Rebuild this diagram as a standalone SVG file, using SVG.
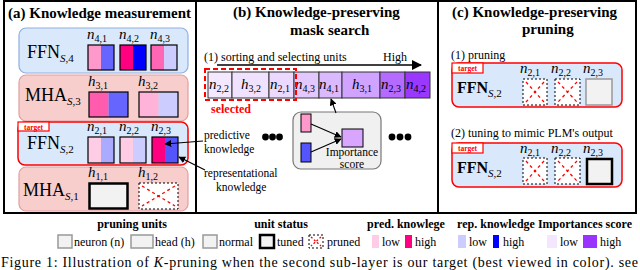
<svg xmlns="http://www.w3.org/2000/svg" width="640" height="270" viewBox="0 0 640 270">
<defs>
<style>
text{font-family:"Liberation Serif","Times New Roman",serif;fill:#000}
.ttl{font-size:15px;font-weight:bold}
.hd{font-size:12px;font-weight:bold}
.sm{font-size:12px}
.ann{font-size:11.5px}
.lay{font-size:18px}
.layb{font-size:16px;font-weight:bold}
.lab{font-size:15px;font-style:italic}
.sub{font-size:10px;font-style:normal}
.ffn{fill:#dae8fc;stroke:#8fb0e0;stroke-width:1.2}
.mha{fill:#f8cecc;stroke:#e0a0a0;stroke-width:1.2}
.tgt{fill:#dae8fc;stroke:#ff0000;stroke-width:1.5}
.tag{fill:#fff;stroke:#ff0000;stroke-width:1.2}
.tagt{font-size:7.5px;font-weight:bold;fill:#ff0000}
.ub{fill:none;stroke:#000;stroke-width:1.2}
.norm{fill:#f2f2f2;stroke:#999;stroke-width:1.5}
.tuned{fill:#f2f2f2;stroke:#000;stroke-width:2.5}
.prn{fill:#fff;stroke:#000;stroke-width:1;stroke-dasharray:2 2}
.x{stroke:#ff0000;stroke-width:1.3;stroke-dasharray:3 3;fill:none}
.cell{stroke:#333;stroke-width:1}
.frame{fill:none;stroke:#000;stroke-width:2}
.con{stroke:#000;stroke-width:1.1;fill:none;marker-end:url(#ah)}
</style>
<marker id="ah" viewBox="0 0 10 10" refX="9" refY="5" markerWidth="7" markerHeight="7" markerUnits="userSpaceOnUse" orient="auto">
<path d="M0,0 L10,5 L0,10 z" fill="#000"/>
</marker>
<marker id="ahb" viewBox="0 0 10 10" refX="9" refY="5" markerWidth="10" markerHeight="10" markerUnits="userSpaceOnUse" orient="auto">
<path d="M0,0 L10,5 L0,10 z" fill="#000"/>
</marker>
</defs>
<rect width="640" height="270" fill="#fff"/>

<!-- frame -->
<g id="frame">
<rect class="frame" x="4" y="1" width="632" height="212"/>
<line x1="196" y1="1" x2="196" y2="213" stroke="#000" stroke-width="2"/>
<line x1="438" y1="1" x2="438" y2="213" stroke="#000" stroke-width="2"/>
</g>

<!-- Panel (a) -->
<text class="ttl" x="8" y="18">(a) Knowledge measurement</text>

<g id="ffn4">
<rect class="ffn" x="19" y="28" width="169" height="45" rx="7"/>
<text class="lay" x="27" y="58">FFN<tspan font-size="11" dy="4"><tspan font-style="italic">S</tspan>,4</tspan></text>
<text class="lab" x="87" y="39">n<tspan class="sub" dy="2.5">4,1</tspan></text>
<text class="lab" x="119" y="39">n<tspan class="sub" dy="2.5">4,2</tspan></text>
<text class="lab" x="150" y="39">n<tspan class="sub" dy="2.5">4,3</tspan></text>
<rect x="88" y="45" width="13" height="25" fill="#ff99cc"/><rect x="101" y="45" width="13" height="25" fill="#6666ff"/><rect class="ub" x="88" y="45" width="26" height="25"/>
<rect x="120" y="45" width="13" height="25" fill="#ff0080"/><rect x="133" y="45" width="13" height="25" fill="#0000ff"/><rect class="ub" x="120" y="45" width="26" height="25"/>
<rect x="151" y="45" width="13" height="25" fill="#ff66b3"/><rect x="164" y="45" width="13" height="25" fill="#ccccff"/><rect class="ub" x="151" y="45" width="26" height="25"/>
</g>

<g id="mha3">
<rect class="mha" x="19" y="75" width="169" height="46" rx="7"/>
<text class="lay" x="25" y="101">MHA<tspan font-size="11" dy="4"><tspan font-style="italic">S</tspan>,3</tspan></text>
<text class="lab" x="88" y="86">h<tspan class="sub" dy="2.5">3,1</tspan></text>
<text class="lab" x="138" y="86">h<tspan class="sub" dy="2.5">3,2</tspan></text>
<rect x="89" y="92" width="19.5" height="25" fill="#ff5cad"/><rect x="108.5" y="92" width="19.5" height="25" fill="#6666ff"/><rect class="ub" x="89" y="92" width="39" height="25"/>
<rect x="139" y="92" width="19.5" height="25" fill="#ffb3d9"/><rect x="158.5" y="92" width="19.5" height="25" fill="#ccccff"/><rect class="ub" x="139" y="92" width="39" height="25"/>
</g>

<g id="ffn2">
<rect class="tgt" x="18" y="122" width="170" height="43" rx="7"/>
<rect class="tag" x="18" y="122" width="31" height="9"/>
<text class="tagt" x="33.5" y="129.5" text-anchor="middle">target</text>
<text class="lay" x="27" y="149">FFN<tspan font-size="11" dy="4"><tspan font-style="italic">S</tspan>,2</tspan></text>
<text class="lab" x="87" y="131">n<tspan class="sub" dy="2.5">2,1</tspan></text>
<text class="lab" x="119" y="131">n<tspan class="sub" dy="2.5">2,2</tspan></text>
<text class="lab" x="151" y="131">n<tspan class="sub" dy="2.5">2,3</tspan></text>
<rect x="88" y="137" width="13" height="26" fill="#ffcce6"/><rect x="101" y="137" width="13" height="26" fill="#aaaaff"/><rect class="ub" x="88" y="137" width="26" height="26"/>
<rect x="120" y="137" width="13" height="26" fill="#ffcce6"/><rect x="133" y="137" width="13" height="26" fill="#ccccff"/><rect class="ub" x="120" y="137" width="26" height="26"/>
<rect x="152" y="137" width="13" height="26" fill="#ff0080"/><rect x="165" y="137" width="13" height="26" fill="#5555ff"/><rect class="ub" x="152" y="137" width="26" height="26"/>
</g>

<g id="mha1">
<rect class="mha" x="19" y="167" width="169" height="44" rx="7"/>
<text class="lay" x="23" y="196">MHA<tspan font-size="11" dy="4"><tspan font-style="italic">S</tspan>,1</tspan></text>
<text class="lab" x="88" y="177">h<tspan class="sub" dy="2.5">1,1</tspan></text>
<text class="lab" x="138" y="177">h<tspan class="sub" dy="2.5">1,2</tspan></text>
<rect class="tuned" x="89.5" y="183.5" width="38" height="25"/>
<rect class="prn" x="139" y="183" width="39" height="26"/>
<path class="x" d="M142,186 L175,206 M175,186 L142,206"/>
</g>

<g id="annotations-a">
<text class="ann" x="204" y="139">predictive</text>
<text class="ann" x="204" y="153">knowledge</text>
<text class="ann" x="204" y="177">representational</text>
<text class="ann" x="216" y="191">knowledge</text>
</g>

<!-- Panel (b) -->
<text class="ttl" x="233" y="17">(b) Knowledge-preserving</text>
<text class="ttl" x="290" y="35">mask search</text>
<text class="sm" x="204" y="61">(1) sorting and selecting units</text>
<text class="sm" x="383" y="61">High</text>

<g id="bar">
<g id="c-n22"><rect class="cell" x="208" y="72" width="24" height="26" fill="#f3e8ff"/><text class="lab" x="209" y="89">n<tspan class="sub" dy="3">2,2</tspan></text></g>
<g id="c-h32"><rect class="cell" x="232" y="72" width="37" height="26" fill="#f0e2ff"/><text class="lab" x="241" y="89">h<tspan class="sub" dy="3">3,2</tspan></text></g>
<g id="c-n21"><rect class="cell" x="269" y="72" width="25" height="26" fill="#ebd9ff"/><text class="lab" x="270" y="89">n<tspan class="sub" dy="3">2,1</tspan></text></g>
<g id="c-n43"><rect class="cell" x="294" y="72" width="25" height="26" fill="#e2c8ff"/><text class="lab" x="295" y="89">n<tspan class="sub" dy="3">4,3</tspan></text></g>
<g id="c-n41"><rect class="cell" x="319" y="72" width="23" height="26" fill="#dab9ff"/><text class="lab" x="319" y="89">n<tspan class="sub" dy="3">4,1</tspan></text></g>
<g id="c-h31"><rect class="cell" x="342" y="72" width="38" height="26" fill="#cfa3ff"/><text class="lab" x="352" y="89">h<tspan class="sub" dy="3">3,1</tspan></text></g>
<g id="c-n23"><rect class="cell" x="380" y="72" width="25" height="26" fill="#b56bff"/><text class="lab" x="381" y="89">n<tspan class="sub" dy="3">2,3</tspan></text></g>
<g id="c-n42"><rect class="cell" x="405" y="72" width="25" height="26" fill="#9a38ff"/><text class="lab" x="406" y="89">n<tspan class="sub" dy="3">4,2</tspan></text></g>
</g>

<g id="selected">
<rect x="205" y="69" width="91" height="31" fill="none" stroke="#ff0000" stroke-width="2" stroke-dasharray="5 3"/>
<text class="hd" x="211" y="113" style="fill:#ff0000">selected</text>
</g>

<g id="importance">
<rect x="293" y="112" width="88" height="57" rx="8" fill="#f0f0f0" stroke="#777" stroke-width="1.2"/>
<rect x="301" y="114" width="10" height="18" fill="#ff99cc" stroke="#000" stroke-width="1"/>
<rect x="301" y="143" width="10" height="19" fill="#5555ff" stroke="#000" stroke-width="1"/>
<rect x="342" y="129" width="21" height="18" fill="#d9a6ff" stroke="#000" stroke-width="1"/>
<text class="ann" x="352" y="156" text-anchor="middle">Importance</text>
<text class="ann" x="352" y="168" text-anchor="middle">score</text>
</g>

<g id="dots">
<circle cx="265.5" cy="137" r="3.4"/><circle cx="272.5" cy="137" r="3.4"/><circle cx="279.5" cy="137" r="3.4"/>
<circle cx="392" cy="137" r="3.4"/><circle cx="400" cy="137" r="3.4"/><circle cx="408" cy="137" r="3.4"/>
</g>

<!-- Panel (c) -->
<text class="ttl" x="452" y="17">(c) Knowledge-preserving</text>
<text class="ttl" x="522" y="34">pruning</text>
<text class="sm" x="451" y="59">(1) pruning</text>
<text class="sm" x="451" y="137">(2) tuning to mimic PLM's output</text>

<g id="c-ffn2-pruned">
<rect class="tgt" x="452" y="63" width="170" height="44" rx="7"/>
<rect class="tag" x="452" y="63" width="31" height="10"/>
<text class="tagt" x="467.5" y="71" text-anchor="middle">target</text>
<text class="layb" x="457" y="93">FFN<tspan font-size="11" font-weight="normal" dy="4"><tspan font-style="italic">S</tspan>,2</tspan></text>
<text class="lab" x="520" y="73">n<tspan class="sub" dy="2.5">2,1</tspan></text>
<text class="lab" x="551" y="73">n<tspan class="sub" dy="2.5">2,2</tspan></text>
<text class="lab" x="583" y="73">n<tspan class="sub" dy="2.5">2,3</tspan></text>
<rect class="prn" x="523" y="79" width="24" height="26"/><path class="x" d="M526,82 L544,102 M544,82 L526,102"/>
<rect class="prn" x="555" y="79" width="25" height="26"/><path class="x" d="M558,82 L577,102 M577,82 L558,102"/>
<rect class="norm" x="586" y="79" width="26" height="26"/>
</g>

<g id="c-ffn2-tuned">
<rect class="tgt" x="452" y="143" width="170" height="44" rx="7"/>
<rect class="tag" x="452" y="143" width="31" height="10"/>
<text class="tagt" x="467.5" y="151" text-anchor="middle">target</text>
<text class="layb" x="457" y="173">FFN<tspan font-size="11" font-weight="normal" dy="4"><tspan font-style="italic">S</tspan>,2</tspan></text>
<text class="lab" x="520" y="153">n<tspan class="sub" dy="2.5">2,1</tspan></text>
<text class="lab" x="551" y="153">n<tspan class="sub" dy="2.5">2,2</tspan></text>
<text class="lab" x="583" y="153">n<tspan class="sub" dy="2.5">2,3</tspan></text>
<rect class="prn" x="523" y="158" width="24" height="26"/><path class="x" d="M526,161 L544,181 M544,161 L526,181"/>
<rect class="prn" x="555" y="158" width="25" height="26"/><path class="x" d="M558,161 L577,181 M577,161 L558,181"/>
<rect class="tuned" x="587" y="159" width="25" height="25"/>
</g>

<!-- connectors -->
<g id="connectors">
<line class="con" x1="203" y1="141" x2="165" y2="144"/>
<line class="con" x1="205" y1="170" x2="179" y2="157"/>
<line x1="217" y1="65" x2="421" y2="65" stroke="#000" stroke-width="1.6" marker-end="url(#ahb)"/>
<line class="con" x1="336" y1="113" x2="331" y2="99"/>
<line class="con" x1="311" y1="124" x2="341" y2="137"/>
<line class="con" x1="311" y1="152" x2="341" y2="139"/>
</g>

<!-- Legend -->
<g id="legend">
<text class="hd" x="132" y="228" text-anchor="middle">pruning units</text>
<text class="hd" x="281" y="228" text-anchor="middle">unit status</text>
<text class="hd" x="406" y="228" text-anchor="middle">pred. knowlege</text>
<text class="hd" x="496" y="228" text-anchor="middle">rep. knowledge</text>
<text class="hd" x="585" y="228" text-anchor="middle">Importances score</text>
<rect class="norm" x="58" y="235" width="14" height="13"/><text class="sm" x="74" y="246">neuron (n)</text>
<rect class="norm" x="131" y="235" width="22" height="13"/><text class="sm" x="155" y="246">head (h)</text>
<rect class="norm" x="203" y="235" width="14" height="13"/><text class="sm" x="219" y="246">normal</text>
<rect class="tuned" x="260" y="235" width="14" height="13"/><text class="sm" x="277" y="246">tuned</text>
<rect class="prn" x="309" y="235" width="14" height="13"/><path class="x" d="M311,237 L321,246 M321,237 L311,246" style="stroke-dasharray:2 2"/><text class="sm" x="327" y="246">pruned</text>
<rect x="372" y="235" width="7" height="13" fill="#ffcce6"/><text class="sm" x="382" y="246">low</text>
<rect x="405" y="235" width="7" height="13" fill="#ff0080"/><text class="sm" x="415" y="246">high</text>
<rect x="458" y="235" width="8" height="13" fill="#ccccff"/><text class="sm" x="469" y="246">low</text>
<rect x="493" y="235" width="6" height="13" fill="#0000ff"/><text class="sm" x="503" y="246">high</text>
<rect x="547" y="235" width="10" height="13" fill="#f5e6ff"/><text class="sm" x="560" y="246">low</text>
<rect x="583" y="235" width="14" height="13" fill="#9933ff"/><text class="sm" x="600" y="246">high</text>
</g>

<text x="1" y="266.5" font-size="14" textLength="637" lengthAdjust="spacing">Figure 1: Illustration of <tspan font-style="italic">K</tspan>-pruning when the second sub-layer is our target (best viewed in color). see</text>
</svg>
